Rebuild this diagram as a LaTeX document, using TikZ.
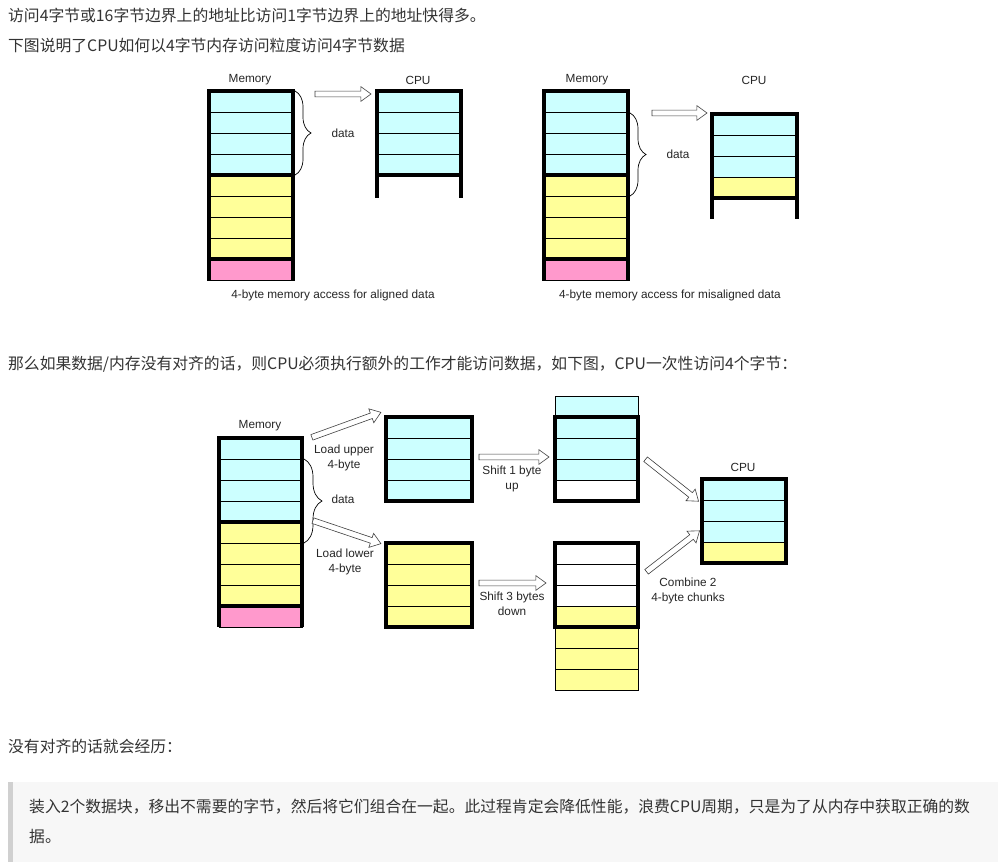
\documentclass[tikz,border=0pt]{standalone}
\usepackage{fontspec}
\setmainfont{Liberation Sans}
\newfontfamily\cjk{Noto Sans CJK SC}
\usetikzlibrary{shapes.arrows,calc,decorations.pathreplacing}
\definecolor{cy}{HTML}{CCFFFF}
\definecolor{ye}{HTML}{FFFF99}
\definecolor{pk}{HTML}{FF99CC}
\definecolor{bodytxt}{HTML}{333333}
\definecolor{quotebg}{HTML}{F7F7F7}
\definecolor{quotebar}{HTML}{D0D0D0}
\tikzset{
  cell/.style={draw=black, line width=0.8pt},
  thk/.style={draw=black, line width=3.8pt, line cap=rect},
  harrow/.style={shape=single arrow, draw=black!75, fill=white, line width=0.6pt,
    inner xsep=0pt, inner ysep=2.6pt, single arrow head extend=4.5pt,
    single arrow tip angle=72, single arrow head indent=0pt},
  lbl/.style={font=\fontsize{11.8}{15}\selectfont, text=black!85, inner sep=0pt, align=center},
  body/.style={font=\cjk\fontsize{15.8}{20}\selectfont, text=bodytxt, inner sep=0pt, anchor=west},
  bracestyle/.style={draw=black, line width=0.7pt, decorate, decoration={brace, amplitude=#1}},
}
\newcommand\hollowarrow[3]{%
  \path let \p1=(#2), \p2=(#3), \n1={atan2(\y2-\y1,\x2-\x1)}, \n2={veclen(\x2-\x1,\y2-\y1)} in
    node[harrow, minimum height=\n2, rotate=\n1] (#1) at ($(#2)!0.5!(#3)$) {};}
\begin{document}
\begin{tikzpicture}[x=1pt, y=-1pt]
\useasboundingbox (0,0) rectangle (1004,862);
\fill[white] (0,0) rectangle (1004,862);

% ---------- body text ----------
\node[body] (t1) at (8,15) {访问4字节或16字节边界上的地址比访问1字节边界上的地址快得多。};
\node[body] (t2) at (8,45) {下图说明了CPU如何以4字节内存访问粒度访问4字节数据};
\node[body] (t3) at (8,364) {那么如果数据/内存没有对齐的话，则CPU必须执行额外的工作才能访问数据，如下图，CPU一次性访问4个字节：};
\node[body] (t4) at (8,746) {没有对齐的话就会经历：};
\fill[quotebg] (8,782) rectangle (998,862);
\fill[quotebar] (8,782) rectangle (13,862);
\node[body] (q1) at (29,807) {装入2个数据块，移出不需要的字节，然后将它们组合在一起。此过程肯定会降低性能，浪费CPU周期，只是为了从内存中获取正确的数};
\node[body] (q2) at (29,837) {据。};

% ---------- top-left: aligned ----------
\node[lbl] (memA) at (250,80) {Memory};
\foreach \i/\c in {0/cy,1/cy,2/cy,3/cy,4/ye,5/ye,6/ye,7/ye,8/pk}
  \filldraw[cell, fill=\c] (209,91+21*\i) rectangle ++(84,21);
\draw[thk] (209,279) -- (209,91) -- (293,91) -- (293,279);
\draw[thk] (209,175) -- (293,175);
\draw[thk] (209,259) -- (293,259);
\draw[bracestyle=16pt] (295,91) -- (295,175);
\node[lbl] (dataA) at (343,133) {data};
\node[lbl] (cpuA) at (418,80) {CPU};
\foreach \i in {0,1,2,3}
  \filldraw[cell, fill=cy] (377,91+21*\i) rectangle ++(84,21);
\draw[thk] (377,196) -- (377,91) -- (461,91) -- (461,196);
\draw[thk] (377,175) -- (461,175);
\coordinate (aA1) at (313,94);
\coordinate (aA2) at (369,94);
\hollowarrow{arrA}{aA1}{aA2}
\node[lbl] (capA) at (333,295) {4-byte memory access for aligned data};

% ---------- top-right: misaligned ----------
\node[lbl] (memB) at (587,80) {Memory};
\foreach \i/\c in {0/cy,1/cy,2/cy,3/cy,4/ye,5/ye,6/ye,7/ye,8/pk}
  \filldraw[cell, fill=\c] (544,91+21*\i) rectangle ++(84,21);
\draw[thk] (544,279) -- (544,91) -- (628,91) -- (628,279);
\draw[thk] (544,175) -- (628,175);
\draw[thk] (544,259) -- (628,259);
\draw[bracestyle=16pt] (630,113) -- (630,196);
\node[lbl] (dataB) at (678,154) {data};
\node[lbl] (cpuB) at (754,80) {CPU};
\foreach \i/\c in {0/cy,1/cy,2/cy,3/ye}
  \filldraw[cell, fill=\c] (712,114+21*\i) rectangle ++(85,21);
\draw[thk] (712,217) -- (712,114) -- (797,114) -- (797,217);
\draw[thk] (712,198) -- (797,198);
\coordinate (aB1) at (650,113);
\coordinate (aB2) at (705,113);
\hollowarrow{arrB}{aB1}{aB2}
\node[lbl] (capB) at (670,295) {4-byte memory access for misaligned data};

% ---------- bottom: misaligned access steps ----------
\node[lbl] (memC) at (260,426) {Memory};
\foreach \i/\c in {0/cy,1/cy,2/cy,3/cy,4/ye,5/ye,6/ye,7/ye,8/pk}
  \filldraw[cell, fill=\c] (219,438+21*\i) rectangle ++(83,21);
\draw[thk] (219,625) -- (219,438) -- (302,438) -- (302,625);
\draw[thk] (219,522) -- (302,522);
\draw[thk] (219,606) -- (302,606);
\draw[bracestyle=18pt] (304,459) -- (304,543);
\node[lbl] (dataC) at (343,499) {data};

% upper load box
\foreach \i in {0,1,2,3}
  \filldraw[cell, fill=cy] (386,417+21*\i) rectangle ++(86,21);
\draw[thk] (386,417) rectangle (472,501);
% lower load box
\foreach \i in {0,1,2,3}
  \filldraw[cell, fill=ye] (386,543+21*\i) rectangle ++(86,21);
\draw[thk] (386,543) rectangle (472,627);

\coordinate (lu1) at (310,438);
\coordinate (lu2) at (379,413);
\hollowarrow{arrLU}{lu1}{lu2}
\node[lbl] (lblLU) at (344,457.5) {Load upper\\4-byte};
\coordinate (ll1) at (311,520);
\coordinate (ll2) at (379,543);
\hollowarrow{arrLL}{ll1}{ll2}
\node[lbl] (lblLL) at (345,562) {Load lower\\4-byte};

% shifted-up box
\filldraw[cell, fill=cy] (555,396) rectangle (638,417);
\foreach \i/\c in {0/cy,1/cy,2/cy,3/white}
  \filldraw[cell, fill=\c] (555,417+21*\i) rectangle ++(83,21);
\draw[thk] (555,417) rectangle (638,501);
% shifted-down box
\foreach \i/\c in {0/white,1/white,2/white,3/ye}
  \filldraw[cell, fill=\c] (555,543+21*\i) rectangle ++(83,21);
\foreach \i in {0,1,2}
  \filldraw[cell, fill=ye] (555,627+21*\i) rectangle ++(83,21);
\draw[thk] (555,543) rectangle (638,627);

\coordinate (s11) at (477,457);
\coordinate (s12) at (547,457);
\hollowarrow{arrS1}{s11}{s12}
\node[lbl] (lblS1) at (512,478.5) {Shift 1 byte\\up};
\coordinate (s31) at (477,583);
\coordinate (s32) at (544,583);
\hollowarrow{arrS3}{s31}{s32}
\node[lbl] (lblS3) at (512,603.5) {Shift 3 bytes\\down};

% CPU
\node[lbl] (cpuC) at (743,467) {CPU};
\foreach \i/\c in {0/cy,1/cy,2/cy,3/ye}
  \filldraw[cell, fill=\c] (702,479+21*\i) rectangle ++(84,21);
\draw[thk] (702,479) rectangle (786,563);

\coordinate (cu1) at (644,458);
\coordinate (cu2) at (697,500);
\hollowarrow{arrCU}{cu1}{cu2}
\coordinate (cl1) at (645,573);
\coordinate (cl2) at (698,532);
\hollowarrow{arrCL}{cl1}{cl2}
\node[lbl] (lblC) at (688,590.5) {Combine 2\\4-byte chunks};
\end{tikzpicture}
\end{document}
